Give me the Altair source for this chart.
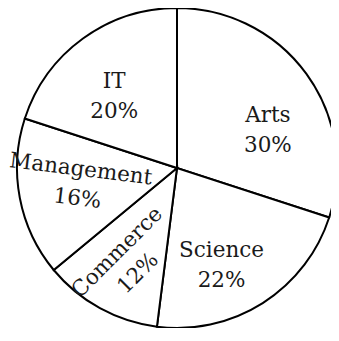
import math
import altair as alt
import pandas as pd

categories = ["Arts", "Science", "Commerce", "Management", "IT"]
shares = [30, 22, 12, 16, 20]

df = pd.DataFrame({"category": categories, "share": shares,
                   "order": list(range(len(categories)))})

W, H = 323, 320
CX, CY, R = 169, 160, 160
FONT = "DejaVu Serif"

theta_scale = alt.Scale(domain=[0, 100], range=[0, 2 * math.pi])
base = alt.Chart(df)

pie = base.mark_arc(fill="white", stroke="black", strokeWidth=2, strokeJoin="miter").encode(
    theta=alt.Theta("share:Q", stack=True, scale=theta_scale),
    order=alt.Order("order:Q"),
    x=alt.value(CX), y=alt.value(CY), radius=alt.value(R),
)

# label tweaks: (dx, dy, angle)
tweaks = {
    "Arts": (10, 7, 0),
    "Science": (-9, -1, 0),
    "Commerce": (-6, -10, 315),
    "Management": (0, -17, 7),
    "IT": (-4, -5, 0),
}

lab_base = base.transform_window(
    cum="sum(share)", sort=[alt.SortField("order")], frame=[None, 0]
).transform_calculate(
    mid="datum.cum - datum.share / 2",
    label="datum.category + '\\n' + datum.share + '%'",
)

layers = [pie]
for cat, (dx, dy, ang) in tweaks.items():
    layers.append(
        lab_base.transform_filter(alt.datum.category == cat).mark_text(
            font=FONT, fontSize=21.5, lineHeight=29.5, lineBreak="\n",
            align="center", baseline="middle", color="#1a1a1a",
            dx=dx, dy=dy, angle=ang,
        ).encode(
            theta=alt.Theta("mid:Q", stack=None, scale=theta_scale),
            x=alt.value(CX), y=alt.value(CY), radius=alt.value(100),
            text="label:N",
        )
    )

chart = alt.layer(*layers).properties(
    width=W, height=H, padding=0, background="white",
    autosize=alt.AutoSizeParams(type="none"),
).configure_view(stroke=None)

chart.save("out.html", embed_options={"renderer": "svg", "actions": False})
